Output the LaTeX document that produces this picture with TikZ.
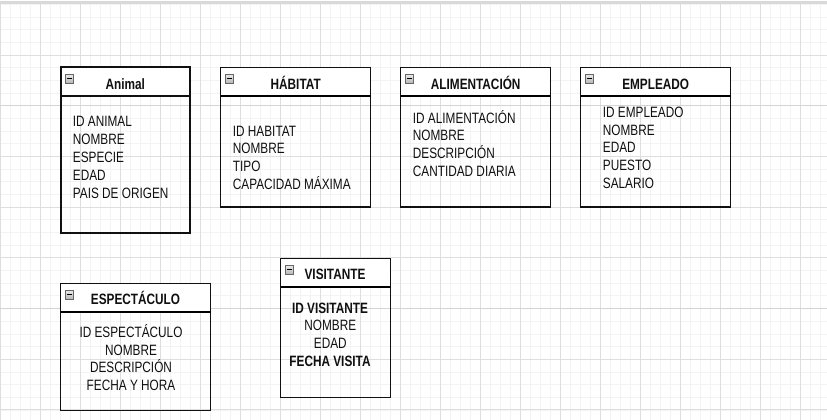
\documentclass[tikz,border=0pt]{standalone}
\usepackage{fontspec}
\usepackage{graphicx}
\setmainfont{Liberation Sans}
\definecolor{ink}{HTML}{101010}
\definecolor{gminor}{HTML}{F3F3F3}
\definecolor{gmajor}{HTML}{DEDEDE}
\definecolor{gstrong}{HTML}{D4D4D4}
\definecolor{topbar}{HTML}{D9D9D9}
\newcommand\stz[1]{\scalebox{1}[1.27]{#1}}
\tikzset{
  minorgrid/.style={draw=gminor, line width=0.7pt},
  majorgrid/.style={draw=gmajor, line width=0.9pt},
  stronggrid/.style={draw=gstrong, line width=1.3pt},
  hdrbox/.style={draw=ink, fill=white, line width=1.2pt, anchor=north west, inner sep=0, outer sep=0},
  bodybox/.style={draw=ink, line width=1.2pt, anchor=north west, inner sep=0, outer sep=0},
  hdrtext/.style={font=\fontsize{11.8}{14}\selectfont\bfseries, text=ink, anchor=base, inner sep=0},
  linetext/.style={font=\fontsize{11.8}{14}\selectfont, text=ink, anchor=base west, inner sep=0},
  ctext/.style={font=\fontsize{11.8}{14}\selectfont, text=ink, anchor=base, inner sep=0},
  icon/.style={draw=black!60, top color=black!8, bottom color=black!28, anchor=north west, inner sep=0, minimum width=7.5pt, minimum height=8.5pt, line width=0.6pt},
}
\begin{document}
\begin{tikzpicture}[x=1pt,y=-1pt]
\useasboundingbox (0,0) rectangle (827,420);
\fill[white] (0,0) rectangle (827,420);
% grid
\foreach \i in {0,...,82} \draw[minorgrid] (\i*10,4) -- (\i*10,420);
\foreach \i in {0,...,33} \draw[minorgrid] (0,4.3+\i*12.675) -- (827,4.3+\i*12.675);
\foreach \i in {0,...,20} \draw[majorgrid] (\i*40,4) -- (\i*40,420);
\foreach \i in {1,...,8} \draw[majorgrid] (0,4.3+\i*50.7) -- (827,4.3+\i*50.7);
\draw[stronggrid] (0,105.7) -- (827,105.7);
\draw[stronggrid] (0,308.5) -- (827,308.5);
\fill[topbar] (0,0.8) rectangle (827,3.8);

% ---- Animal ----
\node[bodybox, line width=1.8pt, minimum width=129.3pt, minimum height=136.7pt] (animalB) at (60.7,96) {};
\node[hdrbox, line width=1.8pt, minimum width=129.3pt, minimum height=28.7pt] (animalH) at (60.7,67.3) {};
\node[icon] (animalI) at (65.3,74) {};
\draw[line width=1pt] ([xshift=1.8pt]animalI.west) -- ([xshift=-1.8pt]animalI.east);
\node[hdrtext] (animalT) at (125.3,89.3) {\stz{Animal}};
\foreach \t [count=\i] in {ID ANIMAL,NOMBRE,ESPECIE,EDAD,PAIS DE ORIGEN}
  \node[linetext] (animal\i) at (72.7,126.7+\i*17.9-17.9) {\stz{\t}};

% ---- Habitat ----
\node[bodybox, minimum width=150pt, minimum height=111pt] (habB) at (220.7,96) {};
\node[hdrbox, minimum width=150pt, minimum height=28.7pt] (habH) at (220.7,67.3) {};
\draw[line width=1.8pt] (habH.south west) -- (habH.south east);
\node[icon] (habI) at (225.3,74) {};
\draw[line width=1pt] ([xshift=1.8pt]habI.west) -- ([xshift=-1.8pt]habI.east);
\node[hdrtext] (habT) at (295.7,89.3) {\stz{HÁBITAT}};
\foreach \t [count=\i] in {ID HABITAT,NOMBRE,TIPO,CAPACIDAD MÁXIMA}
  \node[linetext] (hab\i) at (232.7,136+\i*17.8-17.8) {\stz{\t}};

% ---- Alimentacion ----
\node[bodybox, minimum width=150pt, minimum height=111pt] (aliB) at (400.7,96) {};
\node[hdrbox, minimum width=150pt, minimum height=28.7pt] (aliH) at (400.7,67.3) {};
\draw[line width=1.8pt] (aliH.south west) -- (aliH.south east);
\node[icon] (aliI) at (405.3,74) {};
\draw[line width=1pt] ([xshift=1.8pt]aliI.west) -- ([xshift=-1.8pt]aliI.east);
\node[hdrtext] (aliT) at (475.7,89.3) {\stz{ALIMENTACIÓN}};
\foreach \t [count=\i] in {ID ALIMENTACIÓN,NOMBRE,DESCRIPCIÓN,CANTIDAD DIARIA}
  \node[linetext] (ali\i) at (412.7,123.3+\i*17.6-17.6) {\stz{\t}};

% ---- Empleado ----
\node[bodybox, minimum width=150pt, minimum height=111pt] (empB) at (580.7,96) {};
\node[hdrbox, minimum width=150pt, minimum height=28.7pt] (empH) at (580.7,67.3) {};
\draw[line width=1.8pt] (empH.south west) -- (empH.south east);
\node[icon] (empI) at (585.3,74) {};
\draw[line width=1pt] ([xshift=1.8pt]empI.west) -- ([xshift=-1.8pt]empI.east);
\node[hdrtext] (empT) at (655.7,89.3) {\stz{EMPLEADO}};
\foreach \t [count=\i] in {ID EMPLEADO,NOMBRE,EDAD,PUESTO,SALARIO}
  \node[linetext] (emp\i) at (602.7,117.3+\i*17.75-17.75) {\stz{\t}};

% ---- Espectaculo ----
\node[bodybox, minimum width=150pt, minimum height=98.7pt] (espB) at (60.7,312) {};
\node[hdrbox, minimum width=150pt, minimum height=28.7pt] (espH) at (60.7,283.3) {};
\draw[line width=1.8pt] (espH.south west) -- (espH.south east);
\node[icon] (espI) at (65.3,290) {};
\draw[line width=1pt] ([xshift=1.8pt]espI.west) -- ([xshift=-1.8pt]espI.east);
\node[hdrtext] (espT) at (135.5,304) {\stz{ESPECTÁCULO}};
\foreach \t [count=\i] in {ID ESPECTÁCULO,NOMBRE,DESCRIPCIÓN,FECHA Y HORA}
  \node[ctext] (esp\i) at (131,337.3+\i*17.8-17.8) {\stz{\t}};

% ---- Visitante ----
\node[bodybox, minimum width=110pt, minimum height=111pt] (visB) at (280.7,286.7) {};
\node[hdrbox, minimum width=110pt, minimum height=28.4pt] (visH) at (280.7,258.3) {};
\draw[line width=1.8pt] (visH.south west) -- (visH.south east);
\node[icon] (visI) at (285.3,265) {};
\draw[line width=1pt] ([xshift=1.8pt]visI.west) -- ([xshift=-1.8pt]visI.east);
\node[hdrtext] (visT) at (335,279.3) {\stz{VISITANTE}};
\node[ctext, font=\fontsize{11.8}{14}\selectfont\bfseries] (vis1) at (330,313) {\stz{ID VISITANTE}};
\node[ctext] (vis2) at (330.3,330.8) {\stz{NOMBRE}};
\node[ctext] (vis3) at (330.3,348.6) {\stz{EDAD}};
\node[ctext, font=\fontsize{11.8}{14}\selectfont\bfseries] (vis4) at (330,366.4) {\stz{FECHA VISITA}};
\end{tikzpicture}
\end{document}
